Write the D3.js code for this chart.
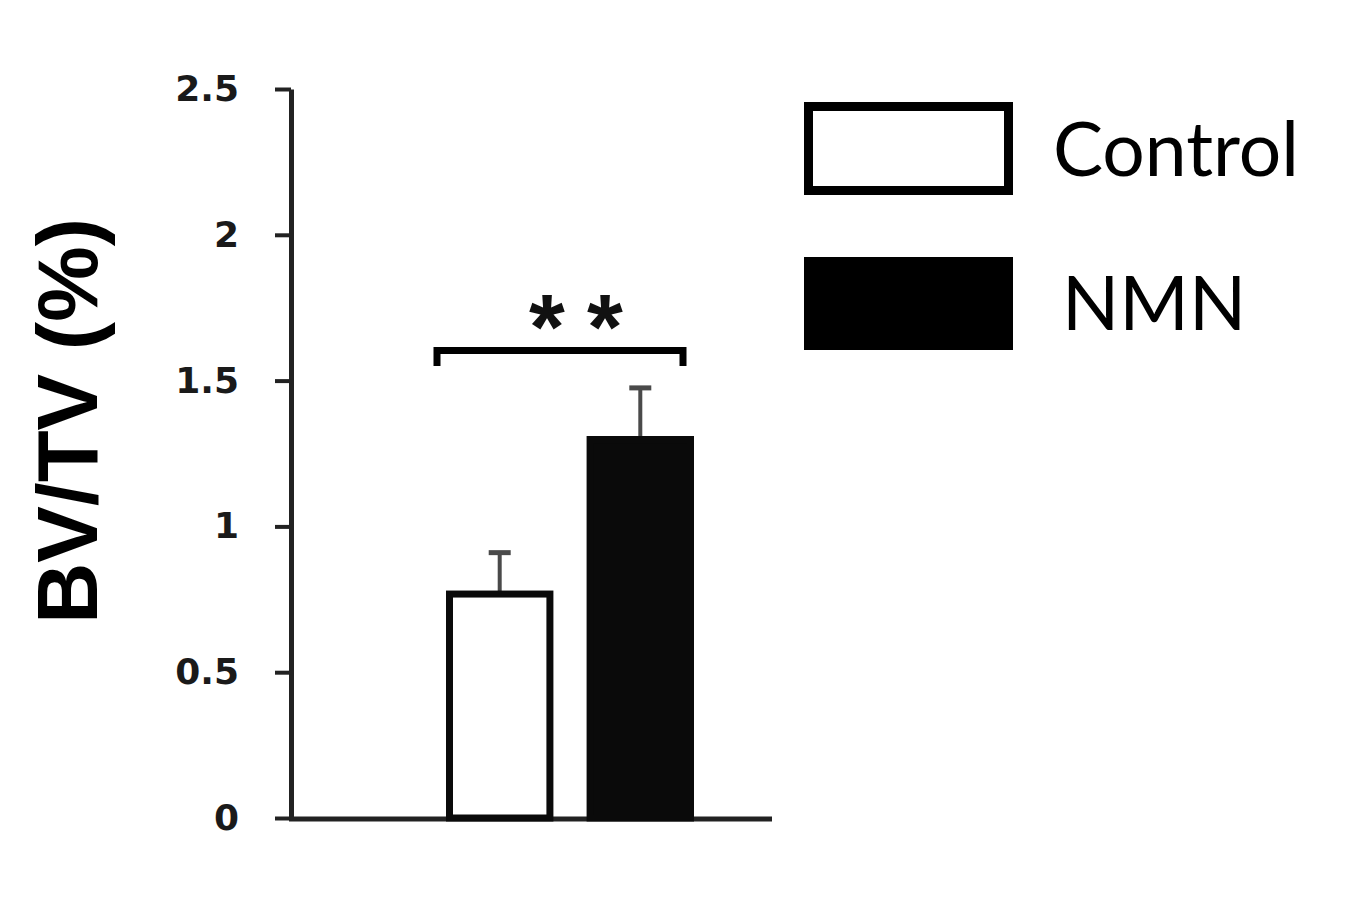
<!DOCTYPE html>
<html>
<head>
<meta charset="utf-8">
<script src="https://cdn.jsdelivr.net/npm/d3@7/dist/d3.min.js"></script>
<style>
  body { margin: 0; background: #fff; }
  svg { display: block; }
</style>
</head>
<body>
<svg id="chart" width="1370" height="916"></svg>
<script>
// data
var groups = ["Control", "NMN"];
var means = [0.78, 1.31];
var errors = [0.13, 0.165];
var yTicks = [0, 0.5, 1, 1.5, 2, 2.5];
var yTickLabels = ["0", "0.5", "1", "1.5", "2", "2.5"];
var starText = ["*", "*"];
var yTitle = "BV/TV (%)";

const svg = d3.select("#chart");

var y = d3.scaleLinear()
	.domain([0, 2.5])
	.range([818, 89]);

var x = d3.scaleBand()
	.domain(groups)
	.range([446, 694])
	.paddingInner(0.236);

var bw = x.bandwidth();

// y axis
var yAxis = d3.axisLeft(y)
	.tickValues(yTicks)
	.tickFormat(function(d, i){ return yTickLabels[i]; })
	.tickSize(16)
	.tickSizeOuter(0)
	.tickPadding(36);

var gy = svg.append("g")
	.attr("transform", "translate(291,0)")
	.call(yAxis);
gy.select(".domain").attr("stroke", "#222").attr("stroke-width", 5);
gy.selectAll(".tick line").attr("stroke", "#222").attr("stroke-width", 4);
gy.selectAll(".tick text")
	.attr("fill", "#1a1a1a")
	.style("font-family", "'DejaVu Sans', Verdana, sans-serif")
	.style("font-weight", "bold")
	.style("font-size", "36px");

// x axis (plain baseline)
svg.append("line")
	.attr("x1", 289)
	.attr("x2", 772)
	.attr("y1", y(0) + 1)
	.attr("y2", y(0) + 1)
	.attr("stroke", "#222")
	.attr("stroke-width", 5);

// error bars (drawn first, bars sit on top)
var err = svg.append("g").attr("class", "errors");
groups.forEach(function(g, i){
	var cx = x(g) + bw / 2;
	err.append("line")
		.attr("x1", cx).attr("x2", cx)
		.attr("y1", y(means[i]) + 4)
		.attr("y2", y(means[i] + errors[i]))
		.attr("stroke", "#4a4a4a").attr("stroke-width", 4);
	err.append("line")
		.attr("x1", cx - 11).attr("x2", cx + 11)
		.attr("y1", y(means[i] + errors[i]))
		.attr("y2", y(means[i] + errors[i]))
		.attr("stroke", "#4a4a4a").attr("stroke-width", 5);
});

// bars
var sw = 7;
svg.selectAll(".bar")
	.data(groups)
	.enter()
	.append("rect")
	.attr("class", "bar")
	.attr("x", function(d){ return x(d) + sw / 2; })
	.attr("y", function(d, i){ return y(means[i]) + sw / 2; })
	.attr("width", bw - sw)
	.attr("height", function(d, i){ return y(0) - y(means[i]) - sw / 2; })
	.attr("fill", function(d, i){ return i == 0 ? "#fff" : "#0a0a0a"; })
	.attr("stroke", "#0a0a0a")
	.attr("stroke-width", sw);

// significance bracket
var bx1 = x("Control") - 9;
var bx2 = x("NMN") + bw - 11;
svg.append("path")
	.attr("d", "M" + bx1 + "," + y(1.55) + "V" + y(1.603) + "H" + bx2 + "V" + y(1.55))
	.attr("fill", "none")
	.attr("stroke", "#000")
	.attr("stroke-width", 7);

svg.selectAll(".star")
	.data(starText)
	.enter()
	.append("text")
	.attr("class", "star")
	.attr("x", function(d, i){ return i == 0 ? 547 : 605; })
	.attr("y", y(1.6) + 8)
	.attr("text-anchor", "middle")
	.attr("fill", "#111")
	.style("font-family", "'Liberation Sans', Arial, sans-serif")
	.style("font-weight", "bold")
	.style("font-size", "92px")
	.text(function(d){ return d; });

// y title
svg.append("text")
	.attr("transform", "translate(97,421) rotate(-90)")
	.attr("text-anchor", "middle")
	.style("font-family", "'Liberation Sans', Arial, sans-serif")
	.style("font-weight", "bold")
	.style("font-size", "85px")
	.text(yTitle);

// legend
var legend = svg.append("g").attr("class", "legend");
var legY = [102, 257];
var legTextX = [1053, 1062];
var legBase = [176, 330];
groups.forEach(function(g, i){
	var lsw = i == 0 ? 9 : 0;
	legend.append("rect")
		.attr("x", 804 + lsw / 2)
		.attr("y", legY[i] + lsw / 2)
		.attr("width", 209 - lsw)
		.attr("height", 93 - lsw)
		.attr("fill", i == 0 ? "#fff" : "#000")
		.attr("stroke", "#000")
		.attr("stroke-width", lsw);
	legend.append("text")
		.attr("x", legTextX[i])
		.attr("y", legBase[i])
		.style("font-family", "Lato, 'Open Sans', sans-serif")
		.style("font-size", "75px")
		.attr("fill", "#000")
		.text(g);
});
</script>
</body>
</html>
